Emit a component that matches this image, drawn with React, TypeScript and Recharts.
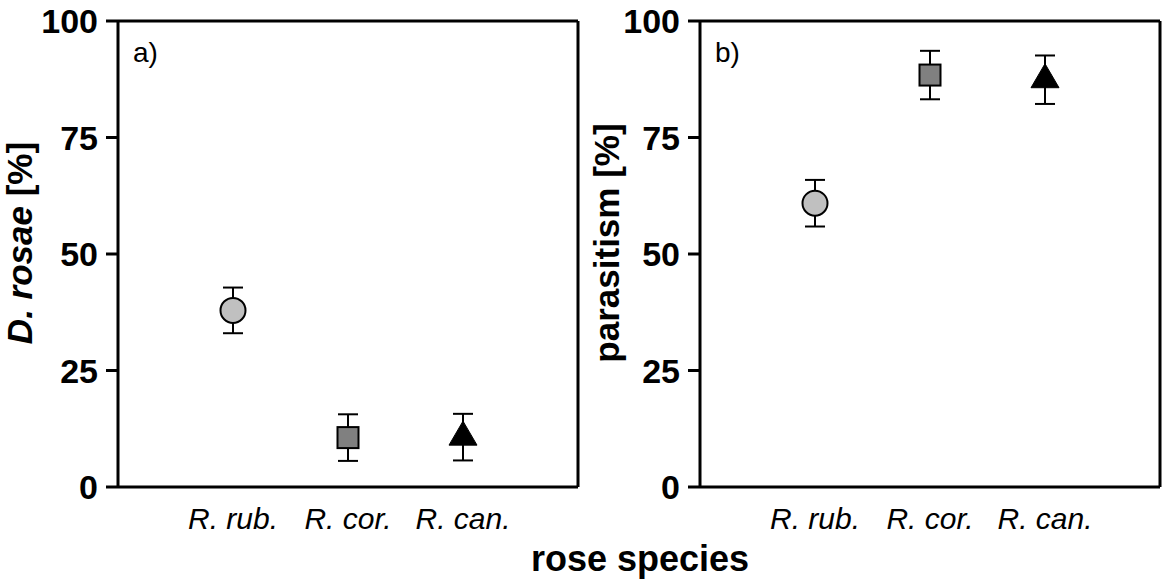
import React from 'react';
import {
  ScatterChart,
  Scatter,
  XAxis,
  YAxis,
  ErrorBar,
  ReferenceLine
} from 'recharts';

const speciesNames = ['R. rub.', 'R. cor.', 'R. can.'];
const markerTypes = ['circle', 'square', 'triangle'];
const rosaeMeans = [37.9, 10.6, 10.7];
const rosaeErrors = [4.9, 5.0, 5.0];
const parasitismMeans = [60.9, 88.4, 87.4];
const parasitismErrors = [5.0, 5.2, 5.2];
const yTicks = [0, 25, 50, 75, 100];

const FONT = '"Liberation Sans", Arial, sans-serif';

const buildRows = (means: number[], errors: number[]) =>
  means.map((m, i) => ({
    x: i + 1,
    y: m,
    err: errors[i],
    marker: markerTypes[i]
  }));

// draw circle / square / triangle depending on the row
const MarkerShape = (props: any) => {
  const { cx, cy, payload } = props;
  if (cx == null || cy == null) return null;
  if (payload.marker === 'circle') {
    return <circle cx={cx} cy={cy} r={12.5} fill='#c0c0c0' stroke='#000' strokeWidth={2} />;
  }
  if (payload.marker === 'square') {
    return (
      <rect x={cx - 10.5} y={cy - 10.5} width={21} height={21} fill='#808080' stroke='#000' strokeWidth={2} />
    );
  }
  return (
    <path
      d={`M${cx},${cy - 16} L${cx + 14},${cy + 8} L${cx - 14},${cy + 8} Z`}
      fill='#000'
      stroke='#000'
      strokeWidth={1}
    />
  );
};

const XTick = ({ x, y, payload }: any) => (
  <text
    x={x}
    y={y + 34}
    textAnchor='middle'
    fontFamily={FONT}
    fontStyle='italic'
    fontSize={30}
    fill='#000'
  >
    {speciesNames[payload.value - 1]}
  </text>
);

const YTick = ({ x, y, payload }: any) => (
  <text
    x={x - 6}
    y={y + 12}
    textAnchor='end'
    fontFamily={FONT}
    fontWeight='bold'
    fontSize={34}
    fill='#000'
  >
    {payload.value}
  </text>
);

type PanelProps = {
  rows: { x: number; y: number; err: number; marker: string }[];
  tag: string;
  yLabel: React.ReactNode;
  labelX: number;
  width: number;
  left: number;
};

function Panel({ rows, tag, yLabel, labelX, width, left }: PanelProps) {
  return (
    <div style={{ position: 'absolute', left, top: 0 }}>
      <ScatterChart
        width={width}
        height={581}
        margin={{ top: 21, right: width - 578, bottom: 0, left: 0 }}
      >
        <XAxis
          type='number'
          dataKey='x'
          domain={[0, 4]}
          ticks={[1, 2, 3]}
          tickLine={false}
          axisLine={{ stroke: '#000', strokeWidth: 3 }}
          tick={<XTick />}
          height={94}
          interval={0}
        />
        <YAxis
          type='number'
          dataKey='y'
          domain={[0, 100]}
          ticks={yTicks}
          width={118}
          tickSize={12}
          tickLine={{ stroke: '#000', strokeWidth: 3 }}
          axisLine={{ stroke: '#000', strokeWidth: 3 }}
          tick={<YTick />}
          interval={0}
          label={{
            content: () => (
              <text
                transform={`translate(${labelX}, 243) rotate(-90)`}
                textAnchor='middle'
                fontFamily={FONT}
                fontWeight='bold'
                fontSize={35}
                fill='#000'
              >
                {yLabel}
              </text>
            )
          }}
        />
        <ReferenceLine y={100} stroke='#000' strokeWidth={3} ifOverflow='visible' />
        <ReferenceLine x={4} stroke='#000' strokeWidth={3} ifOverflow='visible' />
        <Scatter data={rows} shape={<MarkerShape />} isAnimationActive={false}>
          <ErrorBar dataKey='err' direction='y' width={10} stroke='#000' strokeWidth={2} />
        </Scatter>
        <text x={133} y={62} fontFamily={FONT} fontSize={28} fill='#000'>
          {tag}
        </text>
      </ScatterChart>
    </div>
  );
}

export default function App() {
  return (
    <div style={{ position: 'absolute', left: 0, top: 0, width: 1165, height: 581, background: '#fff' }}>
      <Panel
        rows={buildRows(rosaeMeans, rosaeErrors)}
        tag='a)'
        labelX={32}
        width={582}
        left={0}
        yLabel={
          <>
            <tspan fontStyle='italic'>D. rosae</tspan>
            <tspan> [%]</tspan>
          </>
        }
      />
      <Panel
        rows={buildRows(parasitismMeans, parasitismErrors)}
        tag='b)'
        labelX={37}
        width={583}
        left={582}
        yLabel='parasitism [%]'
      />
      <svg width={1165} height={581} style={{ position: 'absolute', left: 0, top: 0, pointerEvents: 'none' }}>
        <text x={640} y={571} textAnchor='middle' fontFamily={FONT} fontWeight='bold' fontSize={36} fill='#000'>
          rose species
        </text>
      </svg>
    </div>
  );
}
